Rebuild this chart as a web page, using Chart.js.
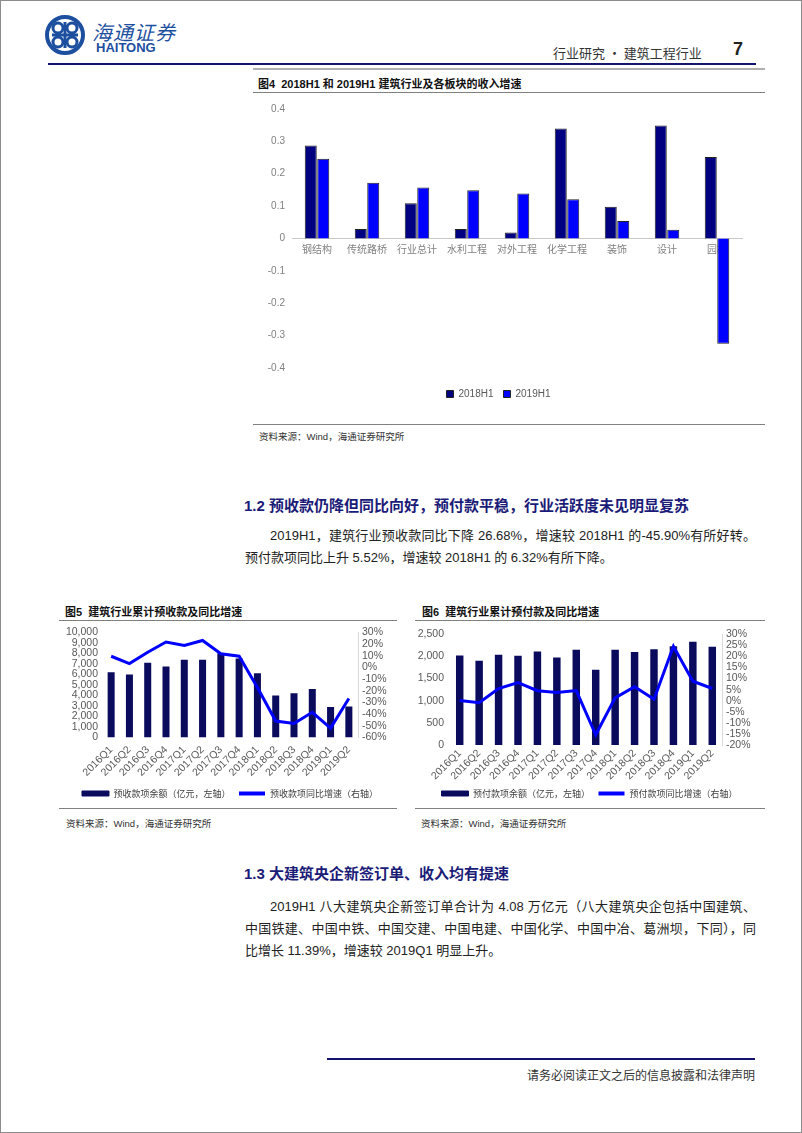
<!DOCTYPE html>
<html><head><meta charset="utf-8">
<script src="https://cdn.jsdelivr.net/npm/chart.js@4.4.1/dist/chart.umd.min.js"></script>
<style>
html,body{margin:0;padding:0;background:#fff;}
body{width:802px;height:1133px;position:relative;overflow:hidden;font-family:"Liberation Sans","Noto Sans CJK SC",sans-serif;color:#222;}
.abs{position:absolute;white-space:nowrap;}
.frame{position:absolute;left:0;top:0;width:800px;height:1131px;border:1px solid #8c8c8c;}
.hline{position:absolute;height:0;}
.figt{position:absolute;font-size:11px;font-weight:bold;color:#111;white-space:nowrap;}
.src{position:absolute;font-size:9.5px;color:#333;white-space:nowrap;}
.h2{position:absolute;font-size:15px;font-weight:bold;color:#1b1b78;white-space:nowrap;}
.p{position:absolute;font-size:13px;color:#222;white-space:nowrap;line-height:16px;}
.j{text-align:justify;text-align-last:justify;}
canvas{position:absolute;}
</style></head>
<body>
<div class="frame"></div>
<!-- header -->
<svg class="abs" style="left:44px;top:14px" width="42" height="42" viewBox="0 0 42 42">
  <circle cx="21" cy="21" r="18" fill="none" stroke="#1d4f9f" stroke-width="4"/>
  <circle cx="14" cy="14" r="5" fill="none" stroke="#1d4f9f" stroke-width="3"/>
  <circle cx="28" cy="14" r="5" fill="none" stroke="#1d4f9f" stroke-width="3"/>
  <circle cx="14" cy="28" r="5" fill="none" stroke="#1d4f9f" stroke-width="3"/>
  <circle cx="28" cy="28" r="5" fill="none" stroke="#1d4f9f" stroke-width="3"/>
  <rect x="19.5" y="8" width="3" height="26" fill="#1d4f9f"/>
  <rect x="8" y="19.5" width="26" height="3" fill="#1d4f9f"/>
</svg>
<div class="abs" style="left:92px;top:17px;font-size:20px;color:#1d4f9f;font-style:italic;letter-spacing:1px;font-family:'Noto Sans CJK SC'">海通证券</div>
<div class="abs" style="left:96px;top:40px;font-size:13px;font-weight:bold;color:#1d4f9f;">HAITONG</div>
<div class="abs" style="left:553px;top:43px;font-size:13px;color:#333;font-family:'Noto Sans CJK SC'">行业研究 · 建筑工程行业</div>
<div class="abs" style="left:733px;top:39px;font-size:18px;font-weight:bold;color:#222;">7</div>
<div class="hline" style="left:48px;top:63px;width:708px;border-top:2px solid #14146e;"></div>
<div class="hline" style="left:253px;top:68px;width:512px;border-top:2px solid #b0b0b0;"></div>

<!-- Figure 4 -->
<div class="figt" style="left:258px;top:75px;">图4&nbsp;&nbsp;2018H1 和 2019H1 建筑行业及各板块的收入增速</div>
<div class="hline" style="left:253px;top:92px;width:512px;border-top:1px solid #808080;"></div>
<canvas id="c4" width="510" height="313" style="left:255px;top:96px;"></canvas>
<div class="hline" style="left:253px;top:424px;width:512px;border-top:1px solid #808080;"></div>
<div class="src" style="left:259px;top:429px;">资料来源：Wind，海通证券研究所</div>

<!-- Section 1.2 -->
<div class="h2" style="left:244px;top:494px;">1.2 预收款仍降但同比向好，预付款平稳，行业活跃度未见明显复苏</div>
<div class="p j" style="left:270px;top:528px;width:486px;">2019H1，建筑行业预收款同比下降 26.68%，增速较 2018H1 的-45.90%有所好转。</div>
<div class="p" style="left:245px;top:550px;">预付款项同比上升 5.52%，增速较 2018H1 的 6.32%有所下降。</div>

<!-- Figure 5 -->
<div class="figt" style="left:65px;top:603px;">图5&nbsp;&nbsp;建筑行业累计预收款及同比增速</div>
<div class="hline" style="left:59px;top:620px;width:338px;border-top:1px solid #808080;"></div>
<canvas id="c5" width="340" height="186" style="left:60px;top:622px;"></canvas>
<div class="hline" style="left:59px;top:808px;width:338px;border-top:1px solid #808080;"></div>
<div class="src" style="left:66px;top:816px;">资料来源：Wind，海通证券研究所</div>

<!-- Figure 6 -->
<div class="figt" style="left:422px;top:603px;">图6&nbsp;&nbsp;建筑行业累计预付款及同比增速</div>
<div class="hline" style="left:415px;top:620px;width:350px;border-top:1px solid #808080;"></div>
<canvas id="c6" width="355" height="186" style="left:412px;top:622px;"></canvas>
<div class="hline" style="left:415px;top:808px;width:350px;border-top:1px solid #808080;"></div>
<div class="src" style="left:421px;top:816px;">资料来源：Wind，海通证券研究所</div>

<!-- Section 1.3 -->
<div class="h2" style="left:244px;top:862px;">1.3 大建筑央企新签订单、收入均有提速</div>
<div class="p j" style="left:270px;top:899px;width:486px;">2019H1 八大建筑央企新签订单合计为 4.08 万亿元（八大建筑央企包括中国建筑、</div>
<div class="p j" style="left:245px;top:921px;width:511px;">中国铁建、中国中铁、中国交建、中国电建、中国化学、中国中冶、葛洲坝，下同），同</div>
<div class="p" style="left:245px;top:943px;">比增长 11.39%，增速较 2019Q1 明显上升。</div>

<!-- footer -->
<div class="hline" style="left:327px;top:1058px;width:428px;border-top:2px solid #14146e;"></div>
<div class="abs" style="right:47px;top:1066px;font-size:12px;color:#333;font-family:'Noto Sans CJK SC'">请务必阅读正文之后的信息披露和法律声明</div>

<script>
// ---------- Data ----------
const fig4Categories = ['钢结构','传统路桥','行业总计','水利工程','对外工程','化学工程','装饰','设计','园林'];
const fig4H1_2018 = [0.287, 0.029, 0.109, 0.029, 0.018, 0.340, 0.098, 0.349, 0.252];
const fig4H1_2019 = [0.246, 0.172, 0.157, 0.149, 0.139, 0.121, 0.054, 0.027, -0.326];

const quarters = ['2016Q1','2016Q2','2016Q3','2016Q4','2017Q1','2017Q2','2017Q3','2017Q4','2018Q1','2018Q2','2018Q3','2018Q4','2019Q1','2019Q2'];
const advanceReceiptBalance = [6200, 6000, 7100, 6750, 7400, 7400, 8000, 7500, 6100, 4000, 4200, 4600, 2900, 2950];
const advanceReceiptGrowth = [9.5, 3.2, 13.0, 21.7, 18.8, 23.0, 11.6, 9.5, -17.3, -45.9, -48.0, -38.4, -52.0, -26.68];
const prepaymentBalance = [2020, 1900, 2040, 2015, 2110, 1975, 2150, 1700, 2150, 2100, 2160, 2230, 2330, 2220];
const prepaymentGrowth = [0.1, -0.9, 5.5, 8.2, 4.5, 3.7, 4.6, -15.4, 1.3, 6.32, 0.7, 24.6, 8.8, 5.52];

// ---------- Defaults ----------
Chart.defaults.font.family = '"Liberation Sans","Noto Sans CJK SC",sans-serif';
Chart.defaults.animation = false;
const CJK = '"Noto Sans CJK SC","Liberation Sans",sans-serif';

// ---------- Figure 4 ----------
new Chart(document.getElementById('c4'), {
  type: 'bar',
  data: {
    labels: fig4Categories,
    datasets: [
      {label:'2018H1', data: fig4H1_2018, backgroundColor:'#000080', borderColor:'#202020', borderWidth:1, categoryPercentage:0.5, barPercentage:0.96},
      {label:'2019H1', data: fig4H1_2019, backgroundColor:'#0000ff', borderColor:'#202020', borderWidth:1, categoryPercentage:0.5, barPercentage:0.96}
    ]
  },
  options: {
    responsive:false, devicePixelRatio:1,
    layout:{padding:{left:0,right:23,top:10,bottom:0}},
    plugins:{
      tooltip:{enabled:false},
      legend:{position:'bottom',
        title:{display:true,text:'',font:{size:1},padding:{top:0,bottom:10}},
        labels:{boxWidth:7,boxHeight:7,padding:10,font:{size:10},color:'#595959'}}
    },
    scales:{
      x:{position:{y:0}, grid:{display:false,drawTicks:false}, border:{display:true,color:'#c8c8c8'},
         ticks:{font:{size:10,family:CJK},color:'#808080',padding:5,maxRotation:0,autoSkip:false},
         afterFit:s=>{s.height=0;}},
      y:{min:-0.4,max:0.4, grid:{display:false,drawTicks:false}, border:{display:false},
         ticks:{stepSize:0.1,autoSkip:false,font:{size:10},color:'#808080',padding:7,callback:v=>String(Number(v.toFixed(1)))},
         afterFit:s=>{s.width=37;}}
    }
  }
});

// ---------- Combo chart helper ----------
function combo(id, barLabel, lineLabel, bars, line, leftMax, leftStep, rightMin, rightMax, rightStep, opts){
  new Chart(document.getElementById(id), {
    type:'bar',
    data:{
      labels: quarters,
      datasets:[
        {type:'bar', label:barLabel, data:bars, yAxisID:'y', backgroundColor:'#0b0b5e', borderColor:'#0b0b5e', borderWidth:0, categoryPercentage:0.8, barPercentage:0.48, order:1},
        {type:'line', label:lineLabel, data:line, yAxisID:'y1', borderColor:'#0000ff', backgroundColor:'#0000ff', borderWidth:3, pointRadius:0, tension:0, order:0}
      ]
    },
    options:{
      responsive:false, devicePixelRatio:1,
      layout:{padding:{left:0,right:0,top:opts.top,bottom:0}},
      plugins:{
        tooltip:{enabled:false},
        legend:{position:'bottom',
          labels:{boxWidth:27,boxHeight:5,padding:8,font:{size:9,family:CJK},color:'#404040',
            sort:(a,b)=>a.datasetIndex-b.datasetIndex,
            generateLabels:(chart)=>chart.data.datasets.map((d,i)=>({
              text:d.label, datasetIndex:i, fillStyle:d.type==='bar'?'#0b0b5e':'#0000ff',
              strokeStyle:d.type==='bar'?'#0b0b5e':'#ffffff', lineWidth:1, hidden:false,
              fontColor:'#404040'}))}}
      },
      scales:{
        x:{grid:{display:false,drawTicks:false}, border:{display:false},
           ticks:{font:{size:10.5},color:'#595959',maxRotation:45,minRotation:45,autoSkip:false,padding:opts.xp},
           afterFit:s=>{s.height=opts.xh;}},
        y:{position:'left',min:0,max:leftMax,grid:{display:false,drawTicks:false},border:{display:false},
           ticks:{stepSize:leftStep,autoSkip:false,font:{size:10.5},color:'#595959',padding:opts.lp,callback:v=>v.toLocaleString('en-US')},
           afterFit:s=>{s.width=opts.lw;}},
        y1:{position:'right',min:rightMin,max:rightMax,grid:{display:false,drawTicks:false},border:{display:true,color:'#d9d9d9'},
           ticks:{stepSize:rightStep,autoSkip:false,font:{size:10.5},color:'#595959',padding:4,callback:v=>v+'%'},
           afterFit:s=>{s.width=opts.rw;}}
      }
    }
  });
}

combo('c5','预收款项余额（亿元，左轴）','预收款项同比增速（右轴）', advanceReceiptBalance, advanceReceiptGrowth,
      10000, 1000, -60, 30, 10, {top:8, xh:43.5, lw:42, rw:42, lp:4, xp:6});
combo('c6','预付款项余额（亿元，左轴）','预付款项同比增速（右轴）', prepaymentBalance, prepaymentGrowth,
      2500, 500, -20, 30, 5, {top:12, xh:36, lw:38, rw:45, lp:6, xp:2});
</script>
</body></html>
